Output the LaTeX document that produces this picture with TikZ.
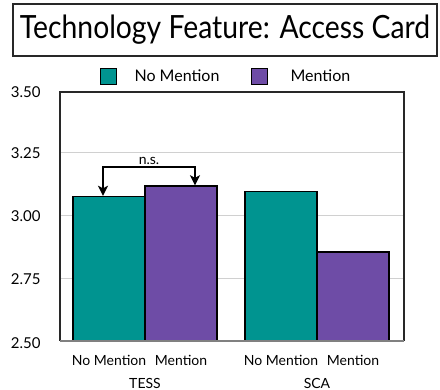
\documentclass[tikz,border=0pt]{standalone}
\usepackage{fontspec}
\setmainfont{Lato}
\usetikzlibrary{arrows.meta}

\definecolor{nomention}{RGB}{0,148,144}
\definecolor{mention}{RGB}{110,76,166}
\definecolor{framegray}{RGB}{40,40,40}
\definecolor{gridgray}{RGB}{208,208,208}

\begin{document}
\begin{tikzpicture}[x=1pt, y=1pt,
    bar/.style={draw=black, line width=1.3pt, inner sep=0pt, anchor=south, minimum width=72pt},
    key/.style={draw=black, line width=0.8pt, inner sep=0pt, minimum size=16pt},
    tick label/.style={anchor=east, font=\fontsize{15}{15}\selectfont},
    cat label/.style={font=\fontsize{14}{14}\selectfont},
    grid line/.style={gridgray, line width=1pt},
    bracket/.style={line width=1.8pt, line join=miter, {Stealth[length=10pt,width=10pt,inset=2.5pt]}-{Stealth[length=10pt,width=10pt,inset=2.5pt]}}]

  \useasboundingbox (0,0) rectangle (440,390);

  \node[draw=framegray, line width=1.2pt, minimum width=424pt, minimum height=52pt,
        font=\fontsize{32}{34}\selectfont] (title) at (225,360) {\scalebox{0.885}[1]{Technology Feature: Access Card}};

  \node[key, fill=nomention] (k1) at (108,314) {};
  \node[anchor=west, font=\fontsize{16}{16}\selectfont] (k1t) at (131,314) {No Mention};
  \node[key, fill=mention] (k2) at (259.5,314) {};
  \node[anchor=west, font=\fontsize{16}{16}\selectfont] (k2t) at (287,314) {Mention};

  \foreach \y in {111,174,237}
    \draw[grid line] (60,\y) -- (404,\y);

  \node[tick label] (t1) at (44,298) {3.50};
  \node[tick label] (t2) at (44,237) {3.25};
  \node[tick label] (t3) at (44,174) {3.00};
  \node[tick label] (t4) at (44,111) {2.75};
  \node[tick label] (t5) at (44,47) {2.50};

  \node[bar, fill=nomention, minimum height=143.9pt] (tessno) at (109,49) {};
  \node[bar, fill=mention, minimum height=154.4pt] (tessme) at (181,49) {};
  \node[bar, fill=nomention, minimum height=148.9pt] (scano) at (281,49) {};
  \node[bar, fill=mention, minimum height=88.4pt] (scame) at (353,49) {};

  \draw[framegray, line width=1.1pt] (60,49) -- (60,298) -- (404,298) -- (404,49);
  \draw[gray, line width=1.5pt] (60,49) -- (404,49);

  \node[cat label] (l1) at (tessno |- 0,30) {No Mention};
  \node[cat label] (l2) at (tessme |- 0,30) {Mention};
  \node[cat label] (l3) at (scano |- 0,30) {No Mention};
  \node[cat label] (l4) at (scame |- 0,30) {Mention};
  \node[cat label] (g1) at (145,7) {TESS};
  \node[cat label] (g2) at (317,7) {SCA};

  \coordinate (brl) at (103,223);
  \coordinate (brr) at (195,223);
  \node[font=\fontsize{14}{14}\selectfont, above] (ns) at (149,222) {n.s.};
  \draw[bracket] (brl |- tessno.north) -- (brl) -- (brr) -- (brr |- tessme.north);
\end{tikzpicture}
\end{document}
